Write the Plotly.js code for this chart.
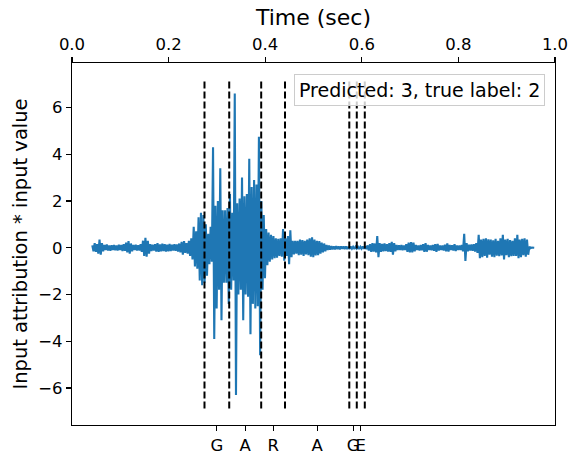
<!DOCTYPE html>
<html>
<head>
<meta charset="utf-8">
<script src="https://cdn.plot.ly/plotly-3.0.1.min.js"></script>
<style>html,body{margin:0;padding:0;background:#fff;}#chart{width:570px;height:454px;}</style>
</head>
<body>
<div id="chart"></div>
<script>
// ---- data ----
const signalStart = 0.042;      // time of first sample (sec)
const sampleStep = 0.0025;      // time between samples (sec)
const attribution = [
  0.1,-0.15,0.2,-0.18,0.15,-0.25,0.35,-0.3,0.2,-0.15,
  0.12,-0.1,0.14,-0.12,0.1,-0.13,0.11,-0.1,0.12,-0.11,
  0.1,-0.12,0.13,-0.1,0.12,-0.14,0.15,-0.13,0.22,-0.2,
  0.28,-0.25,0.18,-0.15,0.12,-0.1,0.13,-0.12,0.11,-0.12,
  0.15,-0.18,0.3,-0.35,0.42,-0.38,0.3,-0.25,0.15,-0.14,
  0.13,-0.12,0.15,-0.16,0.2,-0.18,0.14,-0.15,0.17,-0.14,
  0.15,-0.16,0.13,-0.15,0.16,-0.14,0.13,-0.12,0.15,-0.13,
  0.14,-0.16,0.18,-0.2,0.25,-0.3,0.28,-0.22,0.2,-0.25,
  0.3,-0.35,0.4,-0.5,0.9,-0.8,0.7,-0.9,1.3,-1.4,
  1.5,-1.6,1.4,-1.5,1.0,-1.2,0.6,-0.7,0.9,-0.6,
  4.3,-3.9,1.8,-2.6,2.0,-1.8,3.4,-3.1,1.6,-1.5,
  1.6,-1.5,1.7,-2.4,2.3,-1.8,1.5,-1.4,6.6,-6.3,
  1.9,-2.0,2.1,-1.8,3.0,-3.1,2.2,-2.0,2.3,-2.1,
  3.8,-3.7,2.6,-2.4,2.9,-2.6,2.7,-2.5,4.75,-4.6,
  2.0,-1.8,1.4,-1.3,0.8,-0.75,0.65,-0.6,0.55,-0.5,
  0.5,-0.45,0.4,-0.42,0.38,-0.35,0.4,-0.38,0.8,-0.55,
  0.4,-0.35,0.5,-0.7,0.75,-0.4,0.3,-0.28,0.3,-0.25,
  0.3,-0.32,0.35,-0.3,0.33,-0.35,0.3,-0.28,0.35,-0.32,
  0.4,-0.38,0.45,-0.4,0.35,-0.33,0.3,-0.32,0.28,-0.25,
  0.22,-0.2,0.18,-0.15,0.12,-0.1,0.09,-0.08,0.07,-0.07,
  0.06,-0.07,0.07,-0.06,0.06,-0.07,0.06,-0.05,0.06,-0.06,
  0.05,-0.05,0.04,-0.05,0.05,-0.04,0.04,-0.05,0.04,-0.04,
  0.04,-0.05,0.04,-0.04,0.05,-0.04,0.05,-0.06,0.1,-0.12,
  0.15,-0.18,0.2,-0.16,0.18,-0.2,0.5,-0.4,0.2,-0.18,
  0.16,-0.15,0.18,-0.14,0.15,-0.16,0.2,-0.18,0.25,-0.3,
  0.2,-0.15,0.12,-0.1,0.11,-0.1,0.12,-0.11,0.1,-0.1,
  0.15,-0.18,0.22,-0.2,0.24,-0.2,0.22,-0.15,0.12,-0.1,
  0.1,-0.12,0.12,-0.11,0.15,-0.18,0.2,-0.17,0.12,-0.1,
  0.1,-0.11,0.12,-0.13,0.15,-0.18,0.16,-0.12,0.1,-0.1,
  0.1,-0.12,0.13,-0.15,0.18,-0.16,0.12,-0.1,0.11,-0.12,
  0.15,-0.14,0.1,-0.1,0.09,-0.1,0.12,-0.15,0.6,-0.56,
  0.2,-0.15,0.13,-0.12,0.14,-0.13,0.15,-0.16,0.2,-0.22,
  0.55,-0.45,0.35,-0.4,0.38,-0.35,0.4,-0.42,0.36,-0.3,
  0.35,-0.38,0.32,-0.4,0.38,-0.34,0.3,-0.36,0.4,-0.33,
  0.55,-0.5,0.35,-0.32,0.38,-0.4,0.33,-0.36,0.3,-0.35,
  0.4,-0.35,0.55,-0.45,0.35,-0.4,0.38,-0.32,0.4,-0.38,
  0.35,-0.3,0.05,-0.02,0.01,0.0,0.0
];
const boundaries = [0.2743, 0.3255, 0.3917, 0.441, 0.5741, 0.5896, 0.6062];
const boundaryLow = -6.87;
const boundaryHigh = 7.2;
const phonemes = ['G', 'A', 'R', 'A', 'G', 'E'];
const phonemeTicks = [0.2999, 0.3586, 0.4164, 0.5076, 0.5819, 0.5979];
const timeTicks = [0.0, 0.2, 0.4, 0.6, 0.8, 1.0];
const timeTickText = ['0.0', '0.2', '0.4', '0.6', '0.8', '1.0'];
const yTicks = [-6, -4, -2, 0, 2, 4, 6];
const yTickText = ['\u22126', '\u22124', '\u22122', '0', '2', '4', '6'];
const legendText = 'Predicted: 3, true label: 2';

// ---- traces ----
const wave = {
  type: 'scatter', mode: 'lines',
  x0: signalStart, dx: sampleStep, y: attribution,
  line: {color: '#1f77b4', width: 2.1},
  xaxis: 'x', yaxis: 'y', hoverinfo: 'skip'
};
const vx = [], vy = [];
boundaries.forEach(b => { vx.push(b, b, null); vy.push(boundaryLow, boundaryHigh, null); });
const vlines = {
  type: 'scatter', mode: 'lines', x: vx, y: vy,
  line: {color: 'black', width: 2, dash: '7px,3px'},
  xaxis: 'x2', yaxis: 'y', hoverinfo: 'skip'
};

const axisCommon = {
  ticks: 'outside', ticklen: 5, tickwidth: 1.1, tickcolor: 'black',
  showline: true, linecolor: 'black', linewidth: 1.1,
  showgrid: false, zeroline: false
};

const layout = {
  width: 570, height: 454,
  margin: {l: 72, r: 15, t: 63, b: 29, pad: 0},
  paper_bgcolor: 'white', plot_bgcolor: 'white',
  font: {family: 'DejaVu Sans', color: 'black'},
  showlegend: false,
  xaxis: Object.assign({}, axisCommon, {
    range: [0, 1], tickmode: 'array', tickvals: phonemeTicks, ticktext: phonemes,
    tickangle: 0, tickfont: {size: 16.5}
  }),
  xaxis2: Object.assign({}, axisCommon, {
    range: [0, 1], overlaying: 'x', side: 'top', anchor: 'y',
    tickmode: 'array', tickvals: timeTicks, ticktext: timeTickText,
    tickangle: 0, tickfont: {size: 16.5},
    title: {text: 'Time (sec)', font: {size: 22}, standoff: 3}
  }),
  yaxis: Object.assign({}, axisCommon, {
    range: [-7.58, 7.9], mirror: true,
    tickmode: 'array', tickvals: yTicks, ticktext: yTickText,
    tickfont: {size: 16.5},
    title: {text: 'Input attribution * input value', font: {size: 19.5}, standoff: 5}
  }),
  annotations: [{
    text: legendText, xref: 'paper', yref: 'paper',
    x: 0.979, y: 0.97, xanchor: 'right', yanchor: 'top', showarrow: false,
    font: {size: 19, color: 'black'},
    bgcolor: 'rgba(255,255,255,0.8)', bordercolor: '#cccccc', borderwidth: 1, borderpad: 4
  }]
};

Plotly.newPlot('chart', [wave, vlines], layout, {staticPlot: true, displayModeBar: false});
</script>
</body>
</html>
